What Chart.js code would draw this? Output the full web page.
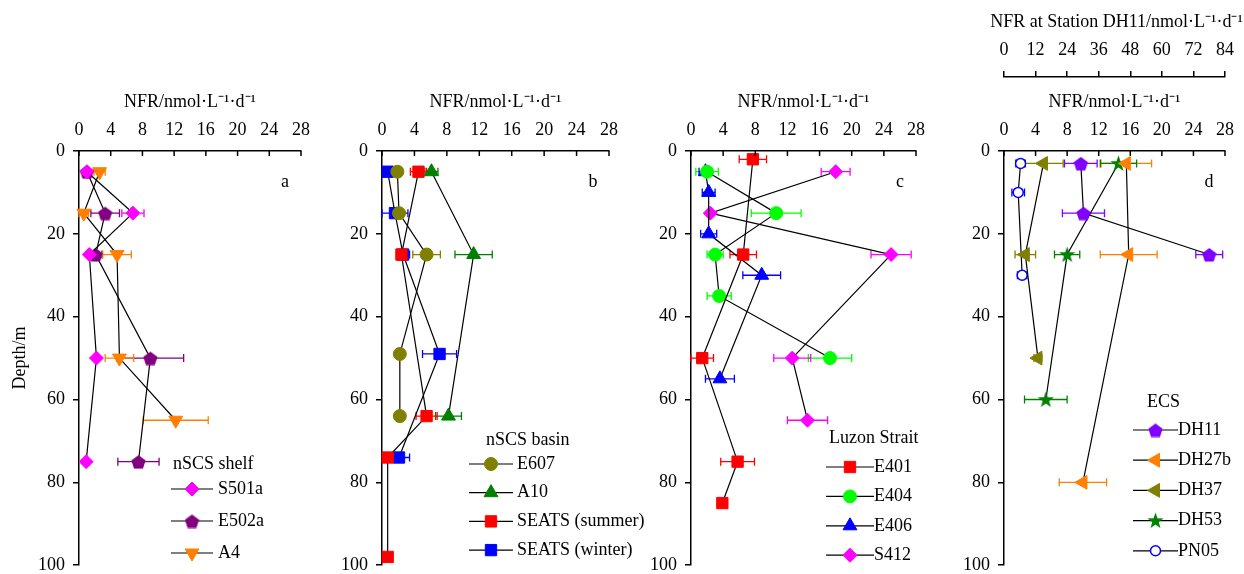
<!DOCTYPE html>
<html>
<head>
<meta charset="utf-8">
<script src="https://cdn.jsdelivr.net/npm/chart.js"></script>
<style>
  body { margin: 0; width: 1244px; height: 574px; overflow: hidden; background: #fff; position: relative; }
  canvas { position: absolute; top: 0; }
</style>
</head>
<body>
<canvas id="chartA" width="320" height="584" style="left:0px"></canvas>
<canvas id="chartB" width="334" height="584" style="left:320px"></canvas>
<canvas id="chartC" width="310" height="584" style="left:640px"></canvas>
<canvas id="chartD" width="294" height="584" style="left:950px"></canvas>
<script>
// ---- data (depth in m, NFR in nmol L-1 d-1, err = +/- bar) ----
const nfrTicks = [0, 4, 8, 12, 16, 20, 24, 28];
const dh11Ticks = [0, 12, 24, 36, 48, 60, 72, 84];
const depthTicks = [0, 20, 40, 60, 80, 100];

// a: nSCS shelf
const s501aDepth = [5, 15, 25, 50, 75];
const s501aNFR   = [1.0, 6.8, 1.3, 2.2, 0.9];
const s501aErr   = [0.3, 1.4, 0, 0, 0];
const e502aDepth = [5, 15, 25, 50, 75];
const e502aNFR   = [1.0, 3.3, 2.1, 9.0, 7.5];
const e502aErr   = [0.3, 1.8, 0.8, 4.2, 2.6];
const a4Depth    = [5, 15, 25, 50, 65];
const a4NFR      = [2.6, 0.6, 4.8, 5.1, 12.2];
const a4Err      = [0.7, 0.6, 1.8, 1.8, 4.1];

// b: nSCS basin
const e607Depth = [5, 15, 25, 49, 64];
const e607NFR   = [1.9, 2.1, 5.5, 2.2, 2.2];
const e607Err   = [0, 0, 1.7, 0, 0];
const a10Depth  = [5, 25, 64];
const a10NFR    = [6.1, 11.3, 8.2];
const a10Err    = [0.8, 2.3, 1.6];
const seatsSumDepth = [5, 25, 64, 74, 98];
const seatsSumNFR   = [4.5, 2.4, 5.5, 0.7, 0.7];
const seatsSumErr   = [1.0, 0.6, 1.3, 0.4, 0];
const seatsWinDepth = [5, 15, 25, 49, 74];
const seatsWinNFR   = [0.7, 1.6, 2.6, 7.1, 2.1];
const seatsWinErr   = [0.6, 1.6, 0.8, 2.1, 1.3];

// c: Luzon Strait
const e401Depth = [2, 25, 50, 75, 85];
const e401NFR   = [7.7, 6.5, 1.4, 5.8, 3.9];
const e401Err   = [1.7, 1.65, 1.4, 2.1, 0];
const e404Depth = [5, 15, 25, 35, 50];
const e404NFR   = [2.0, 10.6, 3.0, 3.5, 17.3];
const e404Err   = [1.4, 3.1, 1.0, 1.5, 2.7];
const e406Depth = [5, 10, 20, 30, 55];
const e406NFR   = [1.8, 2.2, 2.2, 8.8, 3.6];
const e406Err   = [0.8, 0.8, 1.0, 2.35, 1.8];
const s412Depth = [5, 15, 25, 50, 65];
const s412NFR   = [18.0, 2.4, 24.9, 12.6, 14.5];
const s412Err   = [1.8, 0, 2.5, 2.3, 2.5];

// d: ECS (DH11 on its own upper axis, 0-84)
const dh11Depth  = [3, 15, 25];
const dh11NFR    = [29.2, 30.2, 78.0];
const dh11Err    = [6.2, 8.0, 5.1];
const dh27bDepth = [3, 25, 80];
const dh27bNFR   = [15.5, 15.8, 10.0];
const dh27bErr   = [3.2, 3.6, 3.0];
const dh37Depth  = [3, 25, 50];
const dh37NFR    = [5.0, 2.7, 4.3];
const dh37Err    = [2.5, 1.3, 0.5];
const dh53Depth  = [3, 25, 60];
const dh53NFR    = [14.5, 8.0, 5.3];
const dh53Err    = [2.3, 1.6, 2.7];
const pn05Depth  = [3, 10, 30];
const pn05NFR    = [2.1, 1.8, 2.3];
const pn05Err    = [0.6, 0.8, 0.6];

const serif = "'Liberation Serif', 'Times New Roman', serif";
Chart.defaults.font.family = serif;
Chart.defaults.font.size = 18;
Chart.defaults.color = '#000';

// pentagon / filled star markers as little canvases
function makeShape(color, kind, size) {
  const c = document.createElement('canvas');
  c.width = size; c.height = size;
  const g = c.getContext('2d');
  const r = size / 2;
  const n = kind === 'star' ? 10 : 5;
  const cy = kind === 'star' ? r + 0.5 : r + 1;
  g.fillStyle = color;
  g.beginPath();
  for (let i = 0; i < n; i++) {
    const ang = -Math.PI / 2 + i * 2 * Math.PI / n;
    const rr = (kind === 'star' && i % 2) ? r * 0.4 : r;
    g.lineTo(r + rr * Math.cos(ang), cy + rr * Math.sin(ang));
  }
  g.closePath();
  g.fill();
  return c;
}

function pts(depth, nfr) {
  return depth.map((d, i) => ({ x: nfr[i], y: d }));
}

function series(label, depth, nfr, err, color, style, extra) {
  return Object.assign({
    label: label,
    data: pts(depth, nfr),
    err: err,
    barColor: color,
    showLine: true,
    borderColor: '#000',
    borderWidth: 1.2,
    pointStyle: style,
    pointRadius: 7,
    pointBackgroundColor: color,
    pointBorderColor: color,
    pointBorderWidth: 1,
    clip: false
  }, extra || {});
}

const errorBars = {
  id: 'errorBars',
  beforeDatasetsDraw(chart) {
    const ctx = chart.ctx;
    const ys = chart.scales.y;
    chart.data.datasets.forEach(ds => {
      if (!ds.err) return;
      const xs = chart.scales[ds.xAxisID || 'x'];
      ctx.save();
      ctx.strokeStyle = ds.barColor;
      ctx.lineWidth = 1.3;
      ds.data.forEach((p, j) => {
        const e = ds.err[j];
        if (!e) return;
        const x1 = xs.getPixelForValue(p.x - e);
        const x2 = xs.getPixelForValue(p.x + e);
        const y = ys.getPixelForValue(p.y);
        ctx.beginPath();
        ctx.moveTo(x1, y); ctx.lineTo(x2, y);
        ctx.moveTo(x1, y - 4); ctx.lineTo(x1, y + 4);
        ctx.moveTo(x2, y - 4); ctx.lineTo(x2, y + 4);
        ctx.stroke();
      });
      ctx.restore();
    });
  }
};

function drawMarker(ctx, ds, x, y) {
  ctx.save();
  ctx.fillStyle = ds.pointBackgroundColor;
  ctx.strokeStyle = ds.pointBorderColor;
  ctx.lineWidth = ds.pointBorderWidth;
  if (Chart.helpers && Chart.helpers.drawPoint) {
    Chart.helpers.drawPoint(ctx, {
      pointStyle: ds.pointStyle, rotation: ds.pointRotation || 0,
      radius: ds.pointRadius, borderWidth: ds.pointBorderWidth
    }, x, y);
  } else {
    ctx.beginPath(); ctx.arc(x, y, 6, 0, Math.PI * 2); ctx.fill();
  }
  ctx.restore();
}

// inward ticks on the NFR axis, panel letter, legend box
const decor = {
  id: 'decor',
  afterDraw(chart, args, opts) {
    const ctx = chart.ctx, a = chart.chartArea;
    const xs = chart.scales.x;
    ctx.save();
    ctx.strokeStyle = '#000';
    ctx.lineWidth = 1.5;
    xs.ticks.forEach(t => {
      const px = xs.getPixelForValue(t.value);
      ctx.beginPath(); ctx.moveTo(px, a.top); ctx.lineTo(px, a.top + 5); ctx.stroke();
    });
    ctx.fillStyle = '#000';
    ctx.font = '18px ' + serif;
    ctx.textBaseline = 'middle';
    ctx.textAlign = 'center';
    ctx.fillText(opts.letter, a.right - 16, a.top + 31);
    // upper axis title is drawn full width (the library would squeeze it)
    if (opts.topTitle) {
      ctx.fillText(opts.topTitle, (a.left + a.right) / 2 + 2, 22);
    }

    const lg = opts.legend;
    ctx.textAlign = 'left';
    ctx.fillText(lg.title, a.left + lg.titleX, a.top + lg.titleY);
    const x0 = a.left + lg.x;
    chart.data.datasets.forEach((ds, i) => {
      const y = a.top + lg.rowY + i * lg.rowGap;
      ctx.strokeStyle = '#000';
      ctx.lineWidth = 1.2;
      ctx.beginPath(); ctx.moveTo(x0, y); ctx.lineTo(x0 + lg.lineLen, y); ctx.stroke();
      drawMarker(ctx, ds, x0 + lg.lineLen / 2, y);
      ctx.fillStyle = '#000';
      ctx.fillText(ds.label, x0 + lg.lineLen + lg.textGap, y);
    });
    ctx.restore();
  }
};

function nfrAxis(ticks, min, max, title, h, titlePad, weight) {
  return {
    type: 'linear', position: 'top', min: min, max: max, weight: weight,
    afterBuildTicks: s => { s.ticks = ticks.map(v => ({ value: v })); },
    ticks: { padding: 10, maxRotation: 0, autoSkip: false, color: '#000' },
    grid: { drawOnChartArea: false, drawTicks: weight > 0, tickLength: 6, color: '#000', lineWidth: 1.5 },
    border: { color: '#000', width: 1.5 },
    title: { display: !!title, text: title, padding: { top: titlePad, bottom: 0 } },
    afterFit: s => { s.height = h; }
  };
}

function depthAxis(w, showTitle) {
  return {
    type: 'linear', position: 'left', reverse: true, min: 0, max: 100,
    afterBuildTicks: s => { s.ticks = depthTicks.map(v => ({ value: v })); },
    ticks: { padding: 8, color: '#000' },
    grid: { drawOnChartArea: false, tickLength: 6, color: '#000', lineWidth: 1.5 },
    border: { color: '#000', width: 1.5 },
    title: { display: showTitle, text: 'Depth/m', padding: { top: 9, bottom: 0 } },
    afterFit: s => { s.width = w; }
  };
}

function makeChart(id, datasets, scales, padding, letter, legend, topTitle) {
  const ctx = document.getElementById(id).getContext('2d');
  return new Chart(ctx, {
    type: 'scatter',
    data: { datasets: datasets },
    options: {
      responsive: false,
      animation: false,
      events: [],
      layout: { padding: padding },
      scales: scales,
      plugins: {
        legend: { display: false },
        tooltip: { enabled: false },
        decor: { letter: letter, legend: legend, topTitle: topTitle }
      }
    },
    plugins: [errorBars, decor]
  });
}

const nfrTitle = 'NFR/nmol\u00b7L\u207b\u00b9\u00b7d\u207b\u00b9';
const dh11Title = 'NFR at Station DH11/nmol\u00b7L\u207b\u00b9\u00b7d\u207b\u00b9';
const pentPurple = makeShape('#800080', 'pent', 15);
const pentViolet = makeShape('#8000ff', 'pent', 15);
const starGreen = makeShape('#008000', 'star', 17);

makeChart('chartA', [
  series('S501a', s501aDepth, s501aNFR, s501aErr, '#ff00ff', 'rectRot'),
  series('E502a', e502aDepth, e502aNFR, e502aErr, '#800080', pentPurple),
  series('A4', a4Depth, a4NFR, a4Err, '#ff8000', 'triangle', { pointRotation: 180, pointRadius: 8 })
], {
  x: nfrAxis(nfrTicks, 0, 28, nfrTitle, 74, 14, 0),
  y: depthAxis(79, true)
}, { top: 77, left: 0, right: 17, bottom: 18 }, 'a',
  { title: 'nSCS shelf', titleX: 94, titleY: 313, x: 92, rowY: 338, rowGap: 32, lineLen: 42, textGap: 5 });

makeChart('chartB', [
  series('E607', e607Depth, e607NFR, e607Err, '#808000', 'circle', { pointRadius: 6.5 }),
  series('A10', a10Depth, a10NFR, a10Err, '#008000', 'triangle', { pointRadius: 8 }),
  series('SEATS (summer)', seatsSumDepth, seatsSumNFR, seatsSumErr, '#ff0000', 'rect', { pointRadius: 8 }),
  series('SEATS (winter)', seatsWinDepth, seatsWinNFR, seatsWinErr, '#0000ff', 'rect', { pointRadius: 8 })
], {
  x: nfrAxis(nfrTicks, 0, 28, nfrTitle, 74, 14, 0),
  y: depthAxis(62, false)
}, { top: 77, left: 0, right: 45, bottom: 18 }, 'b',
  { title: 'nSCS basin', titleX: 104, titleY: 289, x: 87, rowY: 313, rowGap: 28.7, lineLen: 44, textGap: 4 });

makeChart('chartC', [
  series('E401', e401Depth, e401NFR, e401Err, '#ff0000', 'rect', { pointRadius: 8 }),
  series('E404', e404Depth, e404NFR, e404Err, '#00ff00', 'circle', { pointRadius: 6.5 }),
  series('E406', e406Depth, e406NFR, e406Err, '#0000ff', 'triangle', { pointRadius: 8 }),
  series('S412', s412Depth, s412NFR, s412Err, '#ff00ff', 'rectRot')
], {
  x: nfrAxis(nfrTicks, 0, 28, nfrTitle, 74, 14, 0),
  y: depthAxis(51, false)
}, { top: 77, left: 0, right: 34, bottom: 18 }, 'c',
  { title: 'Luzon Strait', titleX: 138, titleY: 287, x: 135, rowY: 316, rowGap: 29.4, lineLen: 48, textGap: 0 });

makeChart('chartD', [
  series('DH11', dh11Depth, dh11NFR, dh11Err, '#8000ff', pentViolet, { xAxisID: 'x2' }),
  series('DH27b', dh27bDepth, dh27bNFR, dh27bErr, '#ff8000', 'triangle', { pointRotation: 270, pointRadius: 8 }),
  series('DH37', dh37Depth, dh37NFR, dh37Err, '#808000', 'triangle', { pointRotation: 270, pointRadius: 8 }),
  series('DH53', dh53Depth, dh53NFR, dh53Err, '#008000', starGreen),
  series('PN05', pn05Depth, pn05NFR, pn05Err, '#0000ff', 'circle',
    { pointRadius: 5, pointBackgroundColor: '#fff', pointBorderWidth: 1.5 })
], {
  x: nfrAxis(nfrTicks, 0, 28, nfrTitle, 74, 14, 0),
  x2: Object.assign(nfrAxis(dh11Ticks, 0, 84, '', 77, 11, 1), { axis: 'x' }),
  y: depthAxis(54, false)
}, { top: 0, left: 0, right: 12, bottom: 18 }, 'd',
  { title: 'ECS', titleX: 143, titleY: 251, x: 129, rowY: 279, rowGap: 30.2, lineLen: 45, textGap: 0 },
  dh11Title);
</script>
</body>
</html>
